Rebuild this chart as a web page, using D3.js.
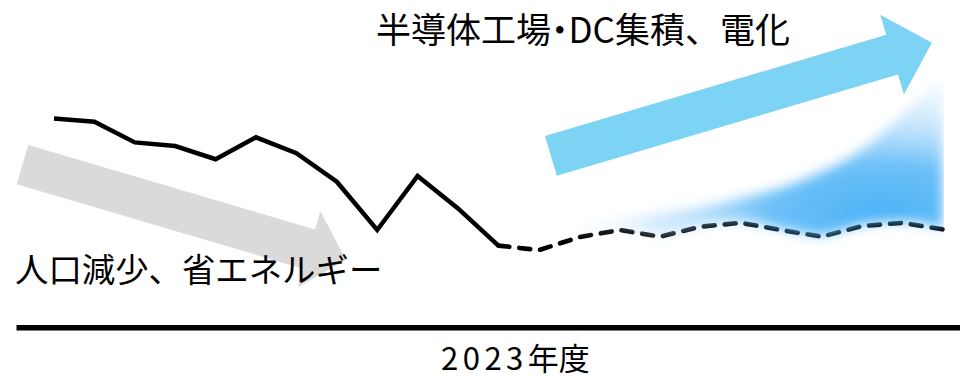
<!DOCTYPE html>
<html><head><meta charset="utf-8">
<script src="https://cdn.jsdelivr.net/npm/d3@7/dist/d3.min.js"></script>
<style>html,body{margin:0;padding:0;background:#fff}svg{display:block}.palt{font-feature-settings:"palt" 1}</style>
</head><body>
<script>
// ---- data ----
const actualYears  = [2012,2013,2014,2015,2016,2017,2018,2019,2020,2021,2022,2023];
const actualValues = [69.2,68.1,61.2,60.0,55.6,62.9,57.6,48.1,32.0,50.0,39.2,26.8];
const outlookYears  = [2023,2024,2025,2026,2027,2028,2029,2030,2031,2032,2033,2034];
const outlookValues = [26.8,25.3,29.6,32.0,29.8,33.1,34.4,32.0,29.8,33.3,34.4,32.2];
const upsideYears  = [2025,2026,2027,2028,2029,2030,2031,2032,2033,2034];
const upsideValues = [33.3,35.3,37.7,39.7,42.7,46.0,51.3,58.7,70.3,83.0];
const downTrendYears  = [2011.22, 2019.23];
const downTrendValues = [53.8, 22.0];
const upTrendYears  = [2024.30, 2033.73];
const upTrendValues = [56.7, 94.4];
const downLabel = "人口減少、省エネルギー";
const upLabelParts = ["半導体工場", "・", "DC集積、電化"];
const axisLabelParts = ["2023", "年度"];

// ---- chart ----
const W = 960, H = 379;
const FONT = "'Noto Sans CJK JP','Noto Sans',sans-serif";
const x = d3.scaleLinear().domain([2012, 2023]).range([54, 498.4]);
const y = d3.scaleLinear().domain([0, 100]).range([326, 26]);

const svg = d3.select("body").append("svg").attr("width", W).attr("height", H);
const defs = svg.append("defs");

// arrows
function arrowPath(x0, y0, x1, y1, halfShaft, halfHead, headLen) {
  const dx = x1 - x0, dy = y1 - y0, L = Math.hypot(dx, dy);
  const ux = dx / L, uy = dy / L, nx = -uy, ny = ux;
  const p = (a, b) => [x0 + ux * a + nx * b, y0 + uy * a + ny * b];
  const s = L - headLen;
  const pts = [p(0, -halfShaft), p(s, -halfShaft), p(s, -halfHead), p(L, 0),
               p(s, halfHead), p(s, halfShaft), p(0, halfShaft)];
  return d3.line()(pts) + "Z";
}
svg.append("path")
  .attr("d", arrowPath(x(downTrendYears[0]), y(downTrendValues[0]), x(downTrendYears[1]), y(downTrendValues[1]), 20.5, 39.5, 38.5))
  .attr("fill", "#dadada");
svg.append("path")
  .attr("d", arrowPath(x(upTrendYears[0]), y(upTrendValues[0]), x(upTrendYears[1]), y(upTrendValues[1]), 20.7, 41.5, 41.5))
  .attr("fill", "#7dd3f4");

// axis baseline
const axisScale = x.copy().domain([x.invert(16), x.invert(960)]).range([16, 960]);
const axisG = svg.append("g").attr("transform", "translate(0,327.25)")
  .call(d3.axisBottom(axisScale).tickValues([]).tickSizeOuter(0));
axisG.select(".domain").attr("stroke", "#000").attr("stroke-width", 5.5);

// actual line
const line = d3.line().x(d => x(d[0])).y(d => y(d[1]));
svg.append("path")
  .attr("d", line(actualYears.map((yr, i) => [yr, actualValues[i]])))
  .attr("fill", "none").attr("stroke", "#000").attr("stroke-width", 4.5)
  .attr("stroke-linejoin", "miter").attr("stroke-miterlimit", 6);

// outlook dashed line
svg.append("path")
  .attr("d", line(outlookYears.map((yr, i) => [yr, outlookValues[i]])))
  .attr("fill", "none").attr("stroke", "#000").attr("stroke-width", 4.6)
  .attr("stroke-dasharray", "11,10").attr("stroke-linecap", "round");

// upside area (blurred radial gradient)
const lowerByYear = new Map(outlookYears.map((yr, i) => [yr, outlookValues[i]]));
const areaData = upsideYears.map((yr, i) => ({ yr, lo: lowerByYear.get(yr) + 0.6, hi: upsideValues[i] }));
const gcx = x(2032.5), gcy = y(37);
const grad = defs.append("radialGradient").attr("id", "upg").attr("gradientUnits", "userSpaceOnUse")
  .attr("cx", gcx).attr("cy", gcy).attr("fx", gcx).attr("fy", gcy).attr("r", 320)
  .attr("gradientTransform", `translate(${gcx},${gcy}) scale(1,0.45) translate(${-gcx},${-gcy})`);
grad.append("stop").attr("offset", 0).attr("stop-color", "#4cb2f6").attr("stop-opacity", 1);
grad.append("stop").attr("offset", 0.35).attr("stop-color", "#5cb9f7").attr("stop-opacity", 0.9);
grad.append("stop").attr("offset", 0.6).attr("stop-color", "#9dd3fa").attr("stop-opacity", 0.65);
grad.append("stop").attr("offset", 0.85).attr("stop-color", "#cbe7fd").attr("stop-opacity", 0.4);
grad.append("stop").attr("offset", 1).attr("stop-color", "#e8f5fe").attr("stop-opacity", 0.12);
const blur = defs.append("filter").attr("id", "bl").attr("x", "-20%").attr("y", "-30%").attr("width", "140%").attr("height", "160%");
blur.append("feGaussianBlur").attr("stdDeviation", 6);
defs.append("clipPath").attr("id", "clipR").append("rect")
  .attr("x", 0).attr("y", 0).attr("width", x(2034) + 1).attr("height", H);
const area = d3.area().x(d => x(d.yr)).y0(d => y(d.lo)).y1(d => y(d.hi)).curve(d3.curveMonotoneX);
svg.append("g").attr("clip-path", "url(#clipR)")
  .append("path").attr("d", area(areaData))
  .attr("fill", "url(#upg)").attr("filter", "url(#bl)");

// labels
const up = svg.append("text").attr("x", 376).attr("y", 43)
  .attr("font-family", FONT).attr("font-size", 35).attr("fill", "#000");
up.append("tspan").text(upLabelParts[0]);
up.append("tspan").attr("class", "palt").text(upLabelParts[1]);
up.append("tspan").text(upLabelParts[2]);

svg.append("text").attr("x", 15).attr("y", 282).text(downLabel)
  .attr("font-family", FONT).attr("font-size", 33.4).attr("fill", "#000");

const ax = svg.append("text").attr("x", x(2023) + 17).attr("y", 370).attr("text-anchor", "middle")
  .attr("font-family", FONT).attr("font-size", 31).attr("fill", "#000");
ax.append("tspan").attr("letter-spacing", 4.5).text(axisLabelParts[0]);
ax.append("tspan").text(axisLabelParts[1]);
</script>
</body></html>
